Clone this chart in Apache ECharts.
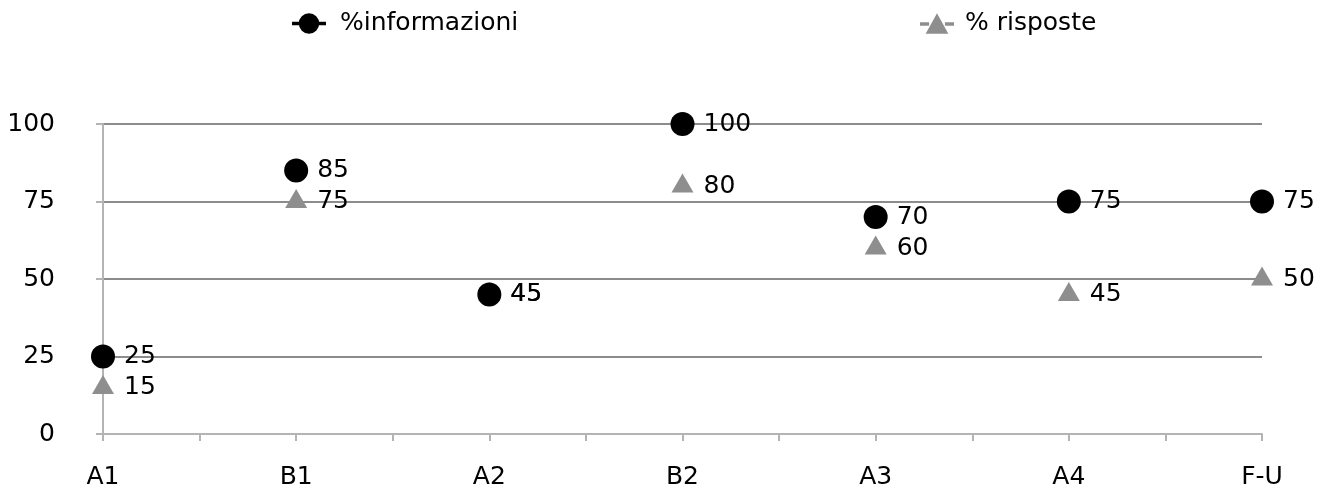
<!DOCTYPE html>
<html>
<head>
<meta charset="utf-8">
<style>
  html, body { margin: 0; padding: 0; background: #ffffff; }
  #chart { width: 1330px; height: 490px; }
</style>
<script src="https://cdn.jsdelivr.net/npm/echarts@6/dist/echarts.min.js"></script>
</head>
<body>
<div id="chart"></div>
<script>
// Levels along the horizontal axis
const categories = ['A1', 'B1', 'A2', 'B2', 'A3', 'A4', 'F-U'];
// Percentages per level
const informazioni = [25, 85, 45, 100, 70, 75, 75];
const risposte = [15, 75, 45, 80, 60, 45, 50];
const yTicks = [0, 25, 50, 75, 100];

const FONT = 'DejaVu Sans';
const FONT_SIZE = 25;
const AXIS_GREY = '#b4b4b4';
const GRID_GREY = '#8c8c8c';

// Legend keys: a short line stub on each side of the marker
const ICON_CIRCLE = 'path://M0,7.5 H6.5 V10.5 H0 Z M23.5,7.5 H30 V10.5 H23.5 Z M15,0 A9,9 0 1,1 14.99,0 Z';
const ICON_TRIANGLE = 'path://M0,8 H8 V11 H0 Z M22,8 H30 V11 H22 Z M15,0 L25,18 L5,18 Z';

const toPoints = arr => arr.map((v, i) => [i, v]);

const chart = echarts.init(document.getElementById('chart'));

chart.setOption({
  animation: false,
  backgroundColor: '#ffffff',
  textStyle: { fontFamily: FONT },
  grid: { left: 103, right: 68, top: 124, bottom: 55, containLabel: false },
  legend: [
    {
      left: 287, top: 6,
      itemWidth: 34, itemHeight: 23,
      data: [{ name: '%informazioni', icon: ICON_CIRCLE }],
      textStyle: { fontFamily: FONT, fontSize: FONT_SIZE, color: '#000', padding: [0, 0, 0, 9] }
    },
    {
      left: 915, top: 6,
      itemWidth: 34, itemHeight: 23,
      data: [{ name: '% risposte', icon: ICON_TRIANGLE }],
      textStyle: { fontFamily: FONT, fontSize: FONT_SIZE, color: '#000', padding: [0, 0, 0, 6] }
    }
  ],
  xAxis: {
    type: 'value',
    min: 0,
    max: categories.length - 1,
    interval: 1,
    axisLine: { show: true, lineStyle: { color: AXIS_GREY, width: 2 } },
    axisTick: { show: true, length: 7, lineStyle: { color: AXIS_GREY, width: 2 } },
    minorTick: { show: true, splitNumber: 2, length: 7, lineStyle: { color: AXIS_GREY, width: 2 } },
    splitLine: { show: false },
    axisLabel: {
      margin: 31,
      fontFamily: FONT, fontSize: FONT_SIZE, color: '#000',
      formatter: v => categories[v] ?? ''
    }
  },
  yAxis: {
    type: 'value',
    min: yTicks[0],
    max: yTicks[yTicks.length - 1],
    interval: 25,
    axisLine: { show: true, lineStyle: { color: AXIS_GREY, width: 2 } },
    axisTick: { show: true, length: 7, lineStyle: { color: AXIS_GREY, width: 2 } },
    splitLine: {
      show: true,
      lineStyle: { color: ['rgba(0,0,0,0)', GRID_GREY, GRID_GREY, GRID_GREY, GRID_GREY], width: 2 }
    },
    axisLabel: {
      margin: 48,
      fontFamily: FONT, fontSize: FONT_SIZE, color: '#000'
    }
  },
  series: [
    {
      name: '% risposte',
      type: 'line',
      z: 3,
      data: toPoints(risposte),
      symbol: 'triangle',
      symbolSize: [22, 19],
      symbolOffset: [0, -3],
      itemStyle: { color: '#8e8e8e' },
      lineStyle: { opacity: 0 },
      label: {
        show: true, position: 'right', distance: 10,
        offset: [0, 3],
        fontFamily: FONT, fontSize: FONT_SIZE, color: '#000'
      }
    },
    {
      name: '%informazioni',
      type: 'line',
      z: 4,
      data: toPoints(informazioni),
      symbol: 'circle',
      symbolSize: 24,
      itemStyle: { color: '#000' },
      lineStyle: { opacity: 0 },
      label: {
        show: true, position: 'right', distance: 9,
        fontFamily: FONT, fontSize: FONT_SIZE, color: '#000'
      }
    }
  ]
});
</script>
</body>
</html>
